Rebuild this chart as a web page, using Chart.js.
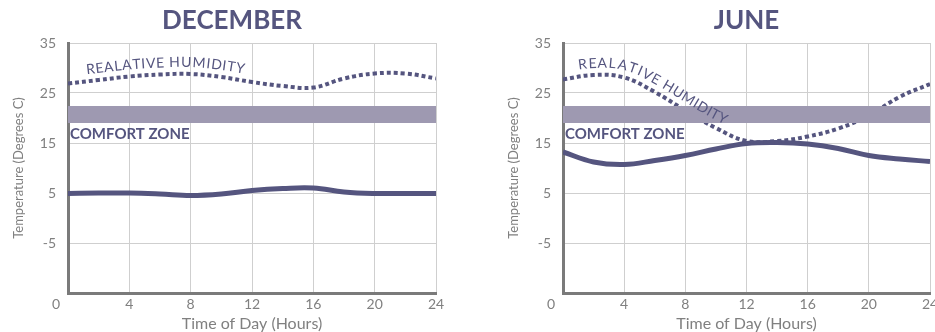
<!DOCTYPE html>
<html>
<head>
<meta charset="utf-8">
<script src="https://cdn.jsdelivr.net/npm/chart.js@4"></script>
<style>
  body { margin: 0; background: #fff; }
  .box { position: absolute; top: 0; }
</style>
</head>
<body>
<div class="box" style="left:0"><canvas id="decChart" width="464" height="332"></canvas></div>
<div class="box" style="left:495px"><canvas id="junChart" width="440" height="332"></canvas></div>
<script>
// hours of the day (x values)
const hours = [0, 2, 4, 6, 8, 10, 12, 14, 16, 18, 20, 22, 24];
const xTicks = [0, 4, 8, 12, 16, 20, 24];
const yTicks = [-5, 5, 15, 25, 35];

// December
const decTemp = [4.9, 5.0, 5.0, 4.8, 4.5, 4.8, 5.5, 5.9, 6.0, 5.2, 4.9, 4.9, 4.9];
const decHumidity = [26.9, 27.6, 28.3, 28.7, 28.8, 28.2, 27.2, 26.4, 26.1, 27.9, 28.9, 28.9, 27.9];

// June
const junTemp = [13.2, 11.2, 10.7, 11.5, 12.5, 13.8, 14.9, 15.1, 14.8, 13.9, 12.5, 11.8, 11.3];
const junHumidity = [27.7, 28.6, 28.1, 25.2, 21.5, 18.0, 15.4, 15.4, 16.3, 17.9, 20.5, 24.2, 26.8];

// comfort zone (low, high)
const comfortZone = [19, 22.4];

const lineColor = "#55557f";
const bandColor = "#9e99b1";
const axisColor = "#7a7a7a";
const textGray = "#808080";

function pts(arr) {
  return hours.map((h, i) => ({ x: h, y: arr[i] }));
}

// sample the drawn bezier curve into a polyline
function curvePolyline(meta) {
  const p = meta.data;
  const out = [];
  for (let i = 0; i < p.length - 1; i++) {
    const a = p[i], b = p[i + 1];
    const c1x = a.cp2x ?? a.x, c1y = a.cp2y ?? a.y;
    const c2x = b.cp1x ?? b.x, c2y = b.cp1y ?? b.y;
    for (let k = 0; k < 20; k++) {
      const t = k / 20, u = 1 - t;
      out.push({
        x: u*u*u*a.x + 3*u*u*t*c1x + 3*u*t*t*c2x + t*t*t*b.x,
        y: u*u*u*a.y + 3*u*u*t*c1y + 3*u*t*t*c2y + t*t*t*b.y,
      });
    }
  }
  out.push({ x: p[p.length - 1].x, y: p[p.length - 1].y });
  return out;
}

function drawCurvedText(ctx, poly, text, startX, offset, spacing) {
  // cumulative arc length
  const len = [0];
  for (let i = 1; i < poly.length; i++) {
    len.push(len[i - 1] + Math.hypot(poly[i].x - poly[i - 1].x, poly[i].y - poly[i - 1].y));
  }
  function at(s) {
    let i = 1;
    while (i < len.length - 1 && len[i] < s) i++;
    const a = poly[i - 1], b = poly[i];
    const f = (s - len[i - 1]) / (len[i] - len[i - 1] || 1);
    return { x: a.x + (b.x - a.x) * f, y: a.y + (b.y - a.y) * f, ang: Math.atan2(b.y - a.y, b.x - a.x) };
  }
  let j = 0;
  while (j < poly.length - 1 && poly[j].x < startX) j++;
  let s = len[j];
  for (const ch of text) {
    const w = ctx.measureText(ch).width;
    const q = at(s + w / 2);
    ctx.save();
    ctx.translate(q.x + Math.sin(q.ang) * offset, q.y - Math.cos(q.ang) * offset);
    ctx.rotate(q.ang);
    ctx.fillText(ch, 0, 0);
    ctx.restore();
    s += w + spacing;
  }
}

function extrasPlugin(title, titleX, labelHour, labelOffset) {
  return {
    id: "extras",
    afterDatasetsDraw(chart) {
      const ctx = chart.ctx;
      const xs = chart.scales.x, ys = chart.scales.y;
      const area = chart.chartArea;
      ctx.save();
      ctx.fillStyle = lineColor;
      // chart title
      ctx.font = "bold 26px Lato";
      ctx.textAlign = "center";
      ctx.textBaseline = "middle";
      ctx.fillText(title, titleX ?? (area.left + area.right) / 2, 21);
      // comfort zone label
      ctx.font = "bold 15px Lato";
      ctx.textAlign = "left";
      ctx.textBaseline = "top";
      ctx.fillText("COMFORT ZONE", area.left + 2, ys.getPixelForValue(comfortZone[0]) + 4);
      // humidity label along the dotted line
      ctx.font = "14px Lato";
      ctx.textAlign = "center";
      ctx.textBaseline = "alphabetic";
      const poly = curvePolyline(chart.getDatasetMeta(2));
      drawCurvedText(ctx, poly, "REALATIVE HUMIDITY", xs.getPixelForValue(labelHour), labelOffset, 0.6);
      // "0" tick at the corner
      ctx.fillStyle = textGray;
      ctx.font = "14px Lato";
      ctx.textBaseline = "middle";
      ctx.textAlign = "center";
      ctx.fillText("0", xs.getPixelForValue(0) - 12, area.bottom + 11);
      ctx.restore();
    },
  };
}

function makeChart(id, title, temp, humidity, titleX, padRight, labelHour, labelOffset) {
  const ctx = document.getElementById(id).getContext("2d");
  return new Chart(ctx, {
    type: "line",
    data: {
      datasets: [
        {
          data: pts(hours.map(() => comfortZone[0])),
          borderWidth: 0,
          pointRadius: 0,
          fill: false,
        },
        {
          data: pts(hours.map(() => comfortZone[1])),
          borderWidth: 0,
          pointRadius: 0,
          backgroundColor: bandColor,
          fill: "-1",
        },
        {
          label: "Relative Humidity",
          data: pts(humidity),
          borderColor: lineColor,
          borderWidth: 4,
          borderDash: [4, 3],
          borderCapStyle: "butt",
          pointRadius: 0,
          tension: 0.4,
        },
        {
          label: "Temperature",
          data: pts(temp),
          borderColor: lineColor,
          borderWidth: 5,
          pointRadius: 0,
          tension: 0.4,
        },
      ],
    },
    options: {
      responsive: false,
      animation: false,
      devicePixelRatio: 1,
      layout: { padding: { top: 43, right: padRight, bottom: 0 } },
      plugins: {
        legend: { display: false },
        tooltip: { enabled: false },
        title: { display: false },
      },
      scales: {
        x: {
          type: "linear",
          min: 0,
          max: 24,
          afterBuildTicks: (s) => { s.ticks = xTicks.map((v) => ({ value: v })); },
          afterFit: (s) => { s.paddingLeft = 0; s.paddingRight = 0; },
          ticks: {
            color: textGray,
            font: { family: "Lato", size: 14, lineHeight: 1 },
            padding: 4,
            maxRotation: 0,
            callback: (v) => (v === 0 ? "" : v),
          },
          grid: { color: "#cfcfcf", lineWidth: 1, drawTicks: false },
          border: { color: axisColor, width: 3 },
          title: {
            display: true,
            text: "Time of Day (Hours)",
            color: textGray,
            font: { family: "Lato", size: 16, lineHeight: 1 },
            padding: { top: 1, bottom: 0 },
          },
        },
        y: {
          min: -15,
          max: 35,
          afterBuildTicks: (s) => { s.ticks = [-15].concat(yTicks).map((v) => ({ value: v })); },
          afterFit: (s) => { s.width = 68; s.paddingTop = 0; s.paddingBottom = 0; },
          ticks: {
            color: textGray,
            font: { family: "Lato", size: 14 },
            padding: 12,
            callback: (v) => (v === -15 ? "" : v),
          },
          grid: { color: "#cfcfcf", lineWidth: 1, drawTicks: false },
          border: { color: axisColor, width: 3 },
          title: {
            display: true,
            text: "Temperature (Degrees C)",
            color: textGray,
            font: { family: "Lato", size: 13 },
            padding: { top: 11, bottom: 0 },
          },
        },
      },
    },
    plugins: [extrasPlugin(title, titleX, labelHour, labelOffset)],
  });
}

makeChart("decChart", "DECEMBER", decTemp, decHumidity, 232, 28, 1.2, 7);
makeChart("junChart", "JUNE", junTemp, junHumidity, null, 5, 1.0, 7);
</script>
</body>
</html>
